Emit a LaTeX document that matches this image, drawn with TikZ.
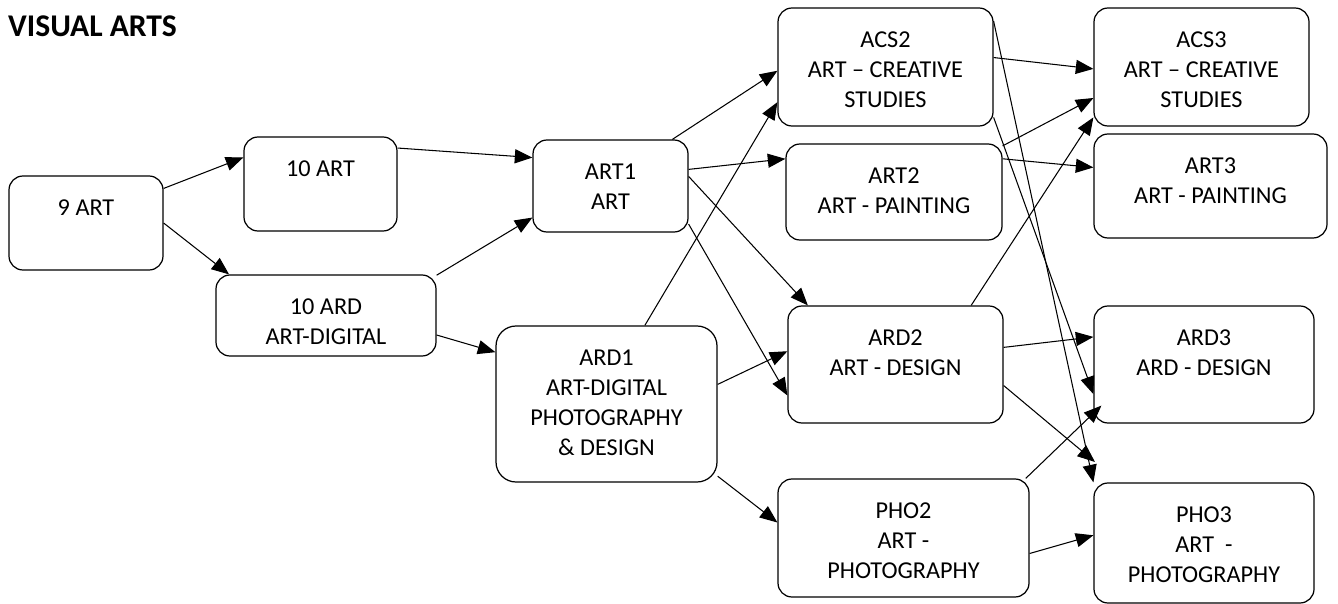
\documentclass[tikz,border=0pt]{standalone}
\usepackage{fontspec}
\setmainfont{Carlito}
\usetikzlibrary{arrows.meta}

\newlength{\px}
\setlength{\px}{0.02cm}
% text sits at the top of each box
\newcommand{\boxtext}[3]{\parbox[c][#2\px][t]{#1\px}{\centering\vspace*{18\px}\strut #3}}

\begin{document}
\begin{tikzpicture}[x=1\px, y=-1\px,
    course/.style={draw, rounded corners=14\px, inner sep=0pt, line width=0.7pt,
        font=\fontsize{13.8}{17.1}\selectfont},
    arr/.style={-{Triangle[length=10pt,width=8pt]}, line width=0.6pt}]

\useasboundingbox (0,0) rectangle (1338,604);

\node [anchor=base west, font=\bfseries\fontsize{18}{22}\selectfont] (title) at (2,37) {VISUAL ARTS};

\node [course] (art9)  at (86,223)    {\boxtext{154}{94}{9 ART}};
\node [course] (art10) at (320.5,184) {\boxtext{153}{94}{10 ART}};
\node [course] (ard10) at (326,315.5) {\boxtext{220}{81}{10 ARD\\ART-DIGITAL}};

\node [course] (art1) at (610.5,186) {\boxtext{155}{92}{ART1\\ART}};
\node [course, rounded corners=20\px] (ard1) at (606.5,404) {\boxtext{221}{156}{ARD1\\ART-DIGITAL\\PHOTOGRAPHY\\\& DESIGN}};

\node [course] (acs2) at (885.5,67)    {\boxtext{215}{118}{ACS2\\ART – CREATIVE\\STUDIES}};
\node [course] (art2) at (894,192)     {\boxtext{216}{96}{ART2\\ART - PAINTING}};
\node [course] (ard2) at (895.5,364.5) {\boxtext{215}{117}{ARD2\\ART - DESIGN}};
\node [course] (pho2) at (903.5,538)   {\boxtext{251}{118}{PHO2\\ART -\\PHOTOGRAPHY}};

\node [course] (acs3) at (1201.5,67)  {\boxtext{215}{118}{ACS3\\ART – CREATIVE\\STUDIES}};
\node [course] (art3) at (1210.5,186) {\boxtext{233}{104}{ART3\\ART - PAINTING}};
\node [course] (ard3) at (1204,364.5) {\boxtext{220}{117}{ARD3\\ARD - DESIGN}};
\node [course] (pho3) at (1204,543)   {\boxtext{220}{120}{PHO3\\ART~~-\\PHOTOGRAPHY}};

\coordinate (gap) at (1095,462);

\foreach \a/\b in {art9.24/art10.161, art9.east/ard10.157, art10.25/art1.160,
    ard10.20/art1.202, ard10.350/ard1.155, art1.37/acs2.182, ard1.64/acs2.198,
    art1.12/art2.163, art1.7/ard2.146, art1.334/ard2.196, ard1.10/ard2.173,
    ard1.327/pho2.173, acs2.5/acs3.181, art2.23/acs3.196, ard2.38/acs3.205,
    art2.17/art3.171, acs2.23/pho3.north west, acs2.335/ard3.195,
    ard2.9/ard3.166, ard2.349/gap, pho2.353/pho3.176}
    \draw [arr] (\a) -- (\b);

\draw [arr] (pho2.26) -- ([shift={(8,-18)}]ard3.south west);

\end{tikzpicture}
\end{document}
